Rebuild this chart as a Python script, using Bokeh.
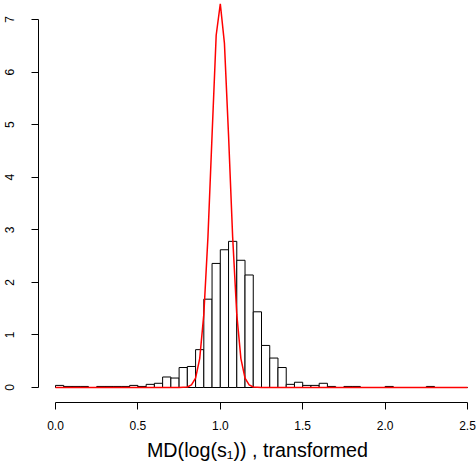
from bokeh.plotting import figure
from bokeh.models import ColumnDataSource, FixedTicker, Range1d
from bokeh.embed import file_html
from bokeh.resources import INLINE

# ---- data ----
bin_width = 0.05
bin_edges = [round(bin_width * i, 2) for i in range(51)]
density = [
    0.04, 0.02, 0.02, 0.02, 0.00, 0.02, 0.02, 0.02, 0.02, 0.04,
    0.02, 0.06, 0.08, 0.20, 0.18, 0.38, 0.40, 0.72, 1.68, 2.36,
    2.62, 2.78, 2.42, 2.14, 1.44, 0.80, 0.56, 0.38, 0.06, 0.10,
    0.04, 0.04, 0.08, 0.02, 0.00, 0.02, 0.02, 0.00, 0.00, 0.00,
    0.02, 0.00, 0.00, 0.00, 0.00, 0.02, 0.00, 0.00, 0.00, 0.00,
]
curve_x = [0.0, 0.75, 0.8, 0.825, 0.85, 0.875, 0.9, 0.925, 0.95, 0.975, 1.0,
           1.025, 1.05, 1.075, 1.1, 1.125, 1.15, 1.175, 1.2, 1.25, 2.5]
curve_y = [0.0, 0.0, 0.01, 0.05, 0.18, 0.55, 1.39, 2.86, 4.8, 6.7, 7.3,
           6.55, 4.8, 2.86, 1.39, 0.55, 0.18, 0.05, 0.01, 0.0, 0.0]
x_ticks = [0.0, 0.5, 1.0, 1.5, 2.0, 2.5]
x_tick_labels = ["0.0", "0.5", "1.0", "1.5", "2.0", "2.5"]
y_ticks = [0, 1, 2, 3, 4, 5, 6, 7]
x_label = "MD(log(s\u2081)) , transformed"

FONT = "Liberation Sans"

hist_src = ColumnDataSource(dict(left=bin_edges[:-1], right=bin_edges[1:],
                                 top=density, bottom=[0.0] * len(density)))
curve_src = ColumnDataSource(dict(x=curve_x, y=curve_y))

p = figure(width=476, height=469, output_backend="svg", toolbar_location=None,
           x_range=Range1d(-0.10316, 2.5546), y_range=Range1d(-0.2853, 7.3614),
           min_border_left=38, min_border_right=0, min_border_top=0,
           min_border_bottom=67)
p.outline_line_color = None
p.grid.visible = False
p.background_fill_color = "white"
p.border_fill_color = "white"

p.quad(left="left", right="right", top="top", bottom="bottom", source=hist_src,
       fill_color="white", line_color="black", line_width=1)
p.line(x="x", y="y", source=curve_src, line_color="#FF0000", line_width=1.5)

xa = p.xaxis[0]
xa.ticker = FixedTicker(ticks=x_ticks)
xa.major_label_overrides = {t: l for t, l in zip(x_ticks, x_tick_labels)}
xa.bounds = (x_ticks[0], x_ticks[-1])
xa.minor_tick_line_color = None
xa.major_tick_in = 0
xa.major_tick_out = 7
xa.major_label_standoff = 11
xa.major_label_text_font = FONT
xa.major_label_text_font_size = "12px"
xa.major_label_text_color = "black"
xa.axis_line_color = "black"
xa.major_tick_line_color = "black"
xa.axis_label = x_label
xa.axis_label_text_font = FONT
xa.axis_label_text_font_size = "19.7px"
xa.axis_label_text_font_style = "normal"
xa.axis_label_text_color = "black"
xa.axis_label_standoff = 6

ya = p.yaxis[0]
ya.ticker = FixedTicker(ticks=y_ticks)
ya.bounds = (y_ticks[0], y_ticks[-1])
ya.minor_tick_line_color = None
ya.major_tick_in = 0
ya.major_tick_out = 7
ya.major_label_standoff = 17
ya.major_label_orientation = "vertical"
ya.major_label_text_font = FONT
ya.major_label_text_font_size = "12px"
ya.major_label_text_color = "black"
ya.axis_line_color = "black"
ya.major_tick_line_color = "black"

open("out.html", "w").write(file_html(p, INLINE))
